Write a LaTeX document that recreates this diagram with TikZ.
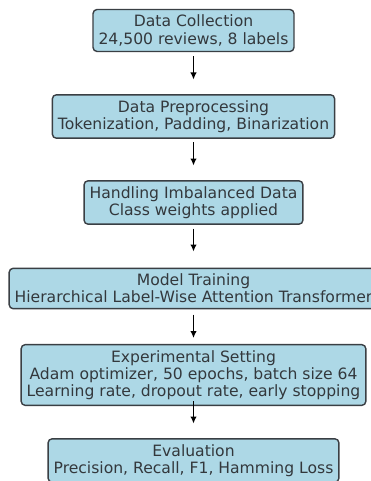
\documentclass[tikz,border=0pt]{standalone}
\usepackage{fontspec}
\setmainfont{DejaVu Sans}
\usepackage{xcolor}
\usepackage{tikz}
\usetikzlibrary{arrows.meta,positioning,calc}
\definecolor{flowblue}{HTML}{ADD8E6}
\definecolor{flowedge}{HTML}{3A3F44}
\definecolor{flowtext}{HTML}{33383C}

\begin{document}
\begin{tikzpicture}[
    x=1pt,y=-1pt,
    etape/.style  = {rectangle, rounded corners=4pt, draw=flowedge, fill=flowblue,
                     line width=1.4pt, align=center, text=flowtext,
                     font=\fontsize{15.6}{17.3}\selectfont,
                     inner xsep=5.5pt, inner ysep=5.5pt},
    fleche/.style = {-{Latex[length=7pt,width=6.5pt]}, black, line width=1.6pt,
                     shorten <=26pt, shorten >=37pt},
  ]

  \useasboundingbox (0,0) rectangle (370,481);

  % ── Étapes du pipeline ──────────────────────────────────────────────────
  \node[etape] (collect) at (193.5, 30.5) {Data Collection\\24,500 reviews, 8 labels};
  \node[etape] (prep)    at (193.5,116.5) {Data Preprocessing\\Tokenization, Padding, Binarization};
  \node[etape] (imbal)   at (193.5,202.5) {Handling Imbalanced Data\\Class weights applied};
  \node[etape] (train)   at (193.5,288.5) {Model Training\\Hierarchical Label-Wise Attention Transformer};
  \node[etape] (setting) at (193.5,375.0) {Experimental Setting\\Adam optimizer, 50 epochs, batch size 64\\Learning rate, dropout rate, early stopping};
  \node[etape] (eval)    at (193.5,460.5) {Evaluation\\Precision, Recall, F1, Hamming Loss};

  % ── Flèches entre les étapes ────────────────────────────────────────────
  \draw[fleche] (collect.center) -- (prep.center);
  \draw[fleche] (prep.center)    -- (imbal.center);
  \draw[fleche] (imbal.center)   -- (train.center);
  \draw[fleche] (train.center)   -- (setting.center);
  \draw[fleche] (setting.center) -- (eval.center);

\end{tikzpicture}
\end{document}
